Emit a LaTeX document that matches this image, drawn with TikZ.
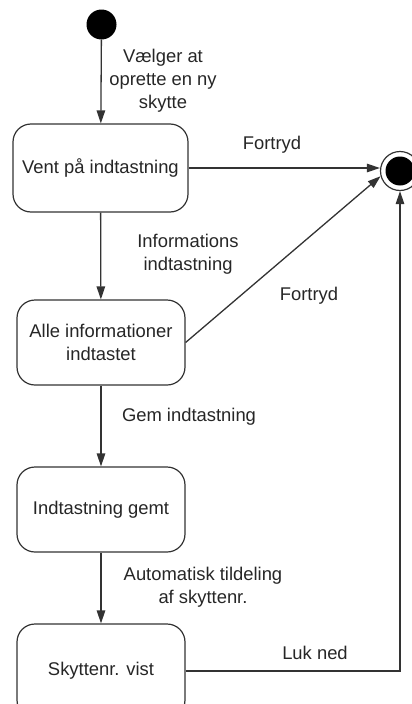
\documentclass[tikz,border=0pt]{standalone}
\usepackage{fontspec}
\setmainfont{Liberation Sans}
\usetikzlibrary{arrows.meta}
\begin{document}
\begin{tikzpicture}[x=1pt,y=-1pt,
  state/.style={draw=black!80,line width=1.2pt,rounded corners=18pt,fill=white,
    minimum width=168pt,minimum height=85pt,align=center,inner sep=2pt,
    font=\fontsize{18.4}{22.8}\selectfont,text=black!85},
  lbl/.style={align=center,inner sep=0pt,font=\fontsize{18.4}{22.8}\selectfont,text=black!85},
  flow/.style={draw=black!80,line width=1.3pt,-{Triangle[length=13pt,width=8.5pt]}},
]
\useasboundingbox (0,0) rectangle (412,704);

% states
\node[circle,fill=black,minimum size=30pt,inner sep=0pt] (init) at (101.5,24.5) {};
\node[state,minimum width=175pt,minimum height=88pt] (s1) at (100.5,168) {Vent på indtastning};
\node[state] (s2) at (101,342.5) {Alle informationer\\indtastet};
\node[state] (s3) at (101,509.5) {Indtastning gemt};
\node[state,minimum height=94pt] (s4) at (101,671) {Skyttenr. vist};
\node[circle,draw=black!80,line width=1.2pt,minimum size=39pt,inner sep=0pt] (final) at (400,171) {};
\node[circle,fill=black,minimum size=29pt,inner sep=0pt] (finalin) at (final.center) {};

% transitions
\draw[flow] (init) -- (s1);
\draw[flow] (s1) -- (s2);
\draw[flow] (s2) -- (s3);
\draw[flow] (s3) -- (s4);
\draw[flow] (s1.east) -- (s1.east -| final.west);
\draw[flow] (s2.east) -- (final.195);
\draw[flow] (s4.east) -| (final.south);

% transition labels
\node[lbl] (l0) at (163,80.5) {Vælger at\\oprette en ny\\skytte};
\node[lbl] (l1) at (272,145) {Fortryd};
\node[lbl] (l2) at (188,254) {Informations\\indtastning};
\node[lbl] (l3) at (309,296) {Fortryd};
\node[lbl] (l4) at (189,417) {Gem indtastning};
\node[lbl] (l5) at (203,587.5) {Automatisk tildeling\\af skyttenr.};
\node[lbl] (l6) at (315,653) {Luk ned};
\end{tikzpicture}
\end{document}
